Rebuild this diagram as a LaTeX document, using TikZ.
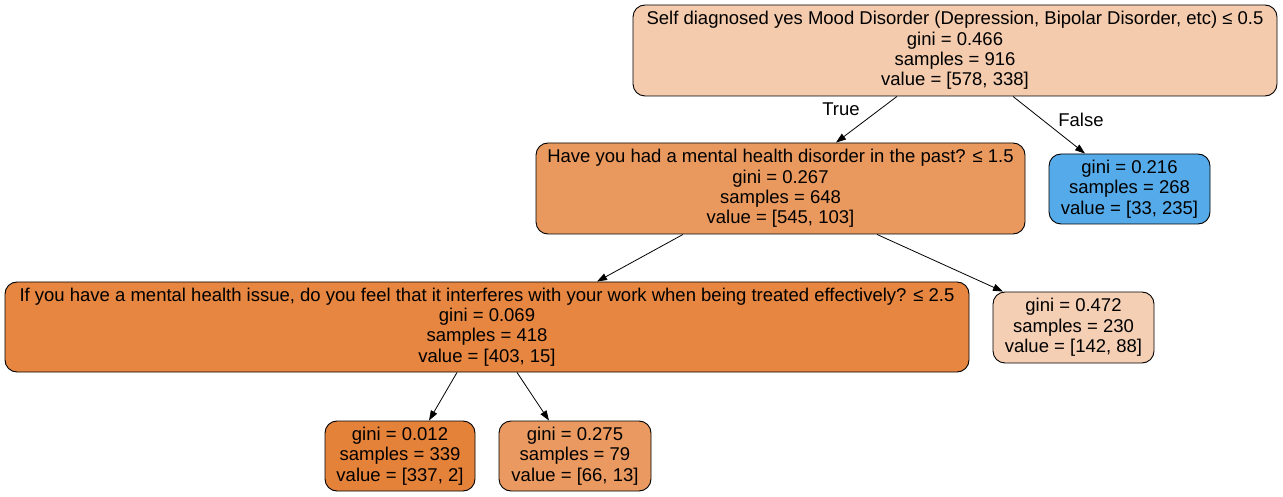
\documentclass[tikz,border=0pt]{standalone}
\usepackage{fontspec}
\setmainfont{Liberation Sans}
\usetikzlibrary{arrows.meta,calc}
\definecolor{cRoot}{HTML}{F4CBAD}
\definecolor{cN1}{HTML}{EA995E}
\definecolor{cBlue}{HTML}{55AAE9}
\definecolor{cL230}{HTML}{F5CFB4}
\definecolor{cN2}{HTML}{E68640}
\definecolor{cL339}{HTML}{E5823A}
\definecolor{cL79}{HTML}{EA9A60}
\tikzset{
  tnode/.style={draw=black, line width=0.9pt, rounded corners=12pt, align=center,
    inner sep=0pt, font=\fontsize{18.5pt}{20.4pt}\selectfont},
  edge/.style={line width=0.8pt, -{Triangle[length=10pt,width=7pt]}},
  elabel/.style={font=\fontsize{18.5pt}{20.4pt}\selectfont, inner sep=0pt}
}
\begin{document}
\begin{tikzpicture}[x=1pt,y=-1pt]
\useasboundingbox (0,0) rectangle (1283,497);
\node[tnode, fill=cRoot, minimum width=644pt, minimum height=91pt] (root) at (955,50.5)
  {Self diagnosed yes Mood Disorder (Depression, Bipolar Disorder, etc) ≤ 0.5\\gini = 0.466\\samples = 916\\value = [578, 338]};
\node[tnode, fill=cN1, minimum width=489pt, minimum height=91pt] (n1) at (780.5,188.5)
  {Have you had a mental health disorder in the past? ≤ 1.5\\gini = 0.267\\samples = 648\\value = [545, 103]};
\node[tnode, fill=cBlue, minimum width=161pt, minimum height=70pt] (lf) at (1129.5,189)
  {gini = 0.216\\samples = 268\\value = [33, 235]};
\node[tnode, fill=cN2, minimum width=964pt, minimum height=90pt] (n2) at (487,327)
  {If you have a mental health issue, do you feel that it interferes with your work when being treated effectively? ≤ 2.5\\gini = 0.069\\samples = 418\\value = [403, 15]};
\node[tnode, fill=cL230, minimum width=161pt, minimum height=71pt] (l230) at (1073.5,327.5)
  {gini = 0.472\\samples = 230\\value = [142, 88]};
\node[tnode, fill=cL339, minimum width=150pt, minimum height=70pt] (l339) at (400,456)
  {gini = 0.012\\samples = 339\\value = [337, 2]};
\node[tnode, fill=cL79, minimum width=152pt, minimum height=70pt] (l79) at (575,456)
  {gini = 0.275\\samples = 79\\value = [66, 13]};
\draw[edge] ($(root.south)+(-58,0)$) -- ($(n1.north)+(55.5,0)$);
\draw[edge] ($(root.south)+(58,0)$) -- ($(lf.north)+(-44.5,0)$);
\draw[edge] ($(n1.south)+(-97.5,0)$) -- ($(n2.north)+(110,0)$);
\draw[edge] ($(n1.south)+(96.5,0)$) -- ($(l230.north)+(-70.5,0)$);
\draw[edge] ($(n2.south)+(-30,0)$) -- ($(l339.north)+(29,0)$);
\draw[edge] ($(n2.south)+(30,0)$) -- ($(l79.north)+(-26,0)$);
\node[elabel] (tlab) at (841,109) {True};
\node[elabel] (flab) at (1081,120) {False};
\end{tikzpicture}
\end{document}
